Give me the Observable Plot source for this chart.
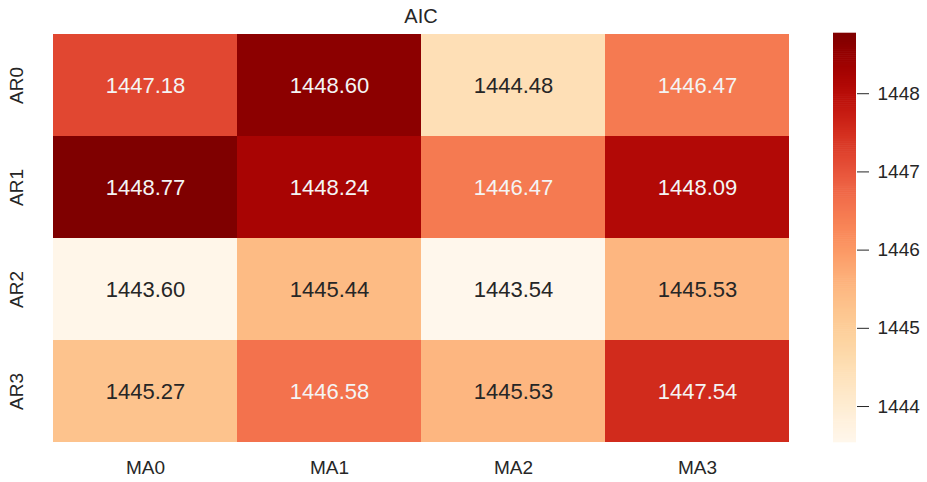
<!DOCTYPE html>
<html><head><meta charset="utf-8">
<script src="https://cdn.jsdelivr.net/npm/d3@7"></script>
<script src="https://cdn.jsdelivr.net/npm/@observablehq/plot@0.6"></script>
<style>
body{margin:0;background:#fff;}
#wrap{position:relative;width:927px;height:482px;font-family:"Liberation Sans",Arial,sans-serif;}
#wrap svg{position:absolute;left:0;top:0;}
</style></head>
<body><div id="wrap"></div>
<script>
const rows = ["AR0","AR1","AR2","AR3"];
const cols = ["MA0","MA1","MA2","MA3"];
const values = [
  [1447.18, 1448.60, 1444.48, 1446.47],
  [1448.77, 1448.24, 1446.47, 1448.09],
  [1443.60, 1445.44, 1443.54, 1445.53],
  [1445.27, 1446.58, 1445.53, 1447.54]
];
const colorbarTicks = [1444, 1445, 1446, 1447, 1448];
const title = "AIC";

const data = [];
rows.forEach((r,i)=>cols.forEach((c,j)=>data.push({row:r,col:c,value:values[i][j]})));
const vmin = d3.min(data,d=>d.value), vmax = d3.max(data,d=>d.value);
const norm = v => (v - vmin)/(vmax - vmin);
function lum(c){
  const rgb = d3.rgb(c);
  const f = x => { x/=255; return x <= 0.03928 ? x/12.92 : Math.pow((x+0.055)/1.055, 2.4); };
  return 0.2126*f(rgb.r)+0.7152*f(rgb.g)+0.0722*f(rgb.b);
}
data.forEach(d=>{ d.light = lum(d3.interpolateOrRd(norm(d.value))) < 0.408; });

const font = {fontFamily:'"Liberation Sans",Arial,sans-serif'};
const main = Plot.plot({
  width: 927, height: 482,
  marginLeft: 51, marginRight: 137, marginTop: 33, marginBottom: 40,
  style: {...font, fontSize: "19px", color: "#262626", background: "transparent"},
  x: {domain: cols, padding: 0, label: null},
  y: {domain: rows, padding: 0, label: null},
  color: {type: "sequential", scheme: "OrRd", domain: [vmin, vmax]},
  marks: [
    Plot.cell(data, {x: "col", y: "row", fill: "value", inset: 0}),
    Plot.text(data.filter(d=>d.light), {x:"col", y:"row", text: d=>d.value.toFixed(2), fill:"#f4f4f4", fontSize: 22}),
    Plot.text(data.filter(d=>!d.light), {x:"col", y:"row", text: d=>d.value.toFixed(2), fill:"#262626", fontSize: 22}),
    Plot.axisX({tickSize: 0, tickPadding: 18, fontSize: 19, fill: "#262626"}),
    Plot.axisY({tickSize: 0, tickRotate: -90, tickPadding: 29, fontSize: 19, fill: "#262626"}),
    Plot.text([title], {frameAnchor: "top", dy: -25, fontSize: 20, fill: "#262626", text: d=>d})
  ]
});
document.getElementById("wrap").appendChild(main);

const steps = d3.range(0, 200).map(i => {
  const a = vmin + (vmax - vmin)*i/200, b = vmin + (vmax - vmin)*(i+1)/200;
  return {y1: a, y2: b, v: (a+b)/2};
});
const bar = Plot.plot({
  width: 927, height: 482,
  marginLeft: 833, marginRight: 71, marginTop: 33, marginBottom: 40,
  style: {...font, fontSize: "19px", color: "#262626", background: "transparent"},
  x: {axis: null, domain: [0,1]},
  y: {domain: [vmin, vmax], label: null},
  color: {type: "sequential", scheme: "OrRd", domain: [vmin, vmax]},
  marks: [
    Plot.rect(steps, {x1: 0, x2: 1, y1: "y1", y2: "y2", fill: "v", inset: 0, insetTop: -0.3, insetBottom: -0.3}),
    Plot.axisY({anchor: "right", ticks: colorbarTicks, tickFormat: d=>String(d), tickSize: 12, tickPadding: 9, fontSize: 19, fill: "#262626", stroke: "#262626"})
  ]
});
document.getElementById("wrap").appendChild(bar);
</script></body></html>
